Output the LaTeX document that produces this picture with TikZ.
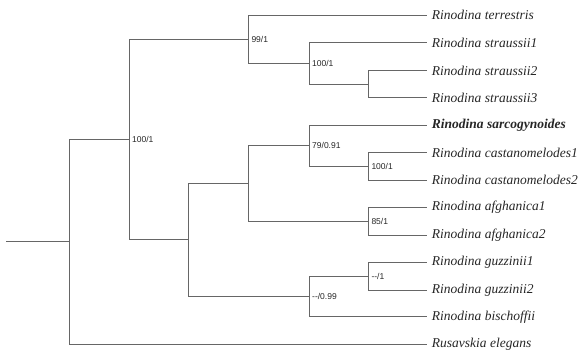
\documentclass[tikz,border=0pt]{standalone}
\usepackage{fontspec}
\setmainfont{Liberation Serif}
\newfontfamily\supfont{Liberation Sans}
\begin{document}
\begin{tikzpicture}[x=1pt,y=-1pt,
  branch/.style={draw=black!60, line width=0.7pt},
  leaf/.style={anchor=west, inner sep=0pt, font=\fontsize{13.5}{14}\selectfont\itshape, text=black!85},
  support/.style={anchor=west, inner sep=0pt, font=\supfont\fontsize{8.5}{9}\selectfont, text=black!85}]
\useasboundingbox (0,0) rectangle (579,351);
% leaf tips
\def\tipx{426.7}
\coordinate (t1) at (\tipx,15);
\coordinate (t2) at (\tipx,42.7);
\coordinate (t3) at (\tipx,70.7);
\coordinate (t4) at (\tipx,97.7);
\coordinate (t5) at (\tipx,125.7);
\coordinate (t6) at (\tipx,152.7);
\coordinate (t7) at (\tipx,180);
\coordinate (t8) at (\tipx,207.3);
\coordinate (t9) at (\tipx,235);
\coordinate (t10) at (\tipx,262.7);
\coordinate (t11) at (\tipx,290);
\coordinate (t12) at (\tipx,316.7);
\coordinate (t13) at (\tipx,344.3);
% internal nodes
\coordinate (stem) at (6,241.7);
\coordinate (root) at (69,241.7);
\coordinate (nA) at (129,139.3);
\coordinate (n99) at (248.3,39);
\coordinate (nS) at (309,63);
\coordinate (nS23) at (368.3,84.2);
\coordinate (nB) at (188.7,239.3);
\coordinate (nC) at (248.3,183.3);
\coordinate (n79) at (309,145.7);
\coordinate (nCa) at (368.3,166.3);
\coordinate (nAf) at (368.3,221);
\coordinate (nG) at (309,296.3);
\coordinate (nGu) at (368.3,276.3);
% branches
\draw[branch] (stem) -- (root);
\draw[branch] (root) |- (nA);
\draw[branch] (root) |- (t13);
\draw[branch] (nA) |- (n99);
\draw[branch] (nA) |- (nB);
\draw[branch] (n99) |- (t1);
\draw[branch] (n99) |- (nS);
\draw[branch] (nS) |- (t2);
\draw[branch] (nS) |- (nS23);
\draw[branch] (nS23) |- (t3);
\draw[branch] (nS23) |- (t4);
\draw[branch] (nB) |- (nC);
\draw[branch] (nB) |- (nG);
\draw[branch] (nC) |- (n79);
\draw[branch] (nC) |- (nAf);
\draw[branch] (n79) |- (t5);
\draw[branch] (n79) |- (nCa);
\draw[branch] (nCa) |- (t6);
\draw[branch] (nCa) |- (t7);
\draw[branch] (nAf) |- (t8);
\draw[branch] (nAf) |- (t9);
\draw[branch] (nG) |- (nGu);
\draw[branch] (nG) |- (t12);
\draw[branch] (nGu) |- (t10);
\draw[branch] (nGu) |- (t11);
% leaf labels
\node[leaf] (l1) at ([xshift=5pt]t1) {Rinodina terrestris};
\node[leaf] (l2) at ([xshift=5pt]t2) {Rinodina straussii1};
\node[leaf] (l3) at ([xshift=5pt]t3) {Rinodina straussii2};
\node[leaf] (l4) at ([xshift=5pt]t4) {Rinodina straussii3};
\node[leaf] (l5) at ([xshift=5pt]t5) {\bfseries Rinodina sarcogynoides};
\node[leaf] (l6) at ([xshift=5pt]t6) {Rinodina castanomelodes1};
\node[leaf] (l7) at ([xshift=5pt]t7) {Rinodina castanomelodes2};
\node[leaf] (l8) at ([xshift=5pt]t8) {Rinodina afghanica1};
\node[leaf] (l9) at ([xshift=5pt]t9) {Rinodina afghanica2};
\node[leaf] (l10) at ([xshift=5pt]t10) {Rinodina guzzinii1};
\node[leaf] (l11) at ([xshift=5pt]t11) {Rinodina guzzinii2};
\node[leaf] (l12) at ([xshift=5pt]t12) {Rinodina bischoffii};
\node[leaf] (l13) at ([xshift=5pt]t13) {Rusavskia elegans};
% support values
\node[support] (sA) at ([xshift=3pt]nA) {100/1};
\node[support] (s99) at ([xshift=3pt]n99) {99/1};
\node[support] (sS) at ([xshift=3pt]nS) {100/1};
\node[support] (s79) at ([xshift=3pt]n79) {79/0.91};
\node[support] (sCa) at ([xshift=3pt]nCa) {100/1};
\node[support] (sAf) at ([xshift=3pt]nAf) {85/1};
\node[support] (sGu) at ([xshift=3pt]nGu) {--/1};
\node[support] (sG) at ([xshift=3pt]nG) {--/0.99};
\end{tikzpicture}
\end{document}
